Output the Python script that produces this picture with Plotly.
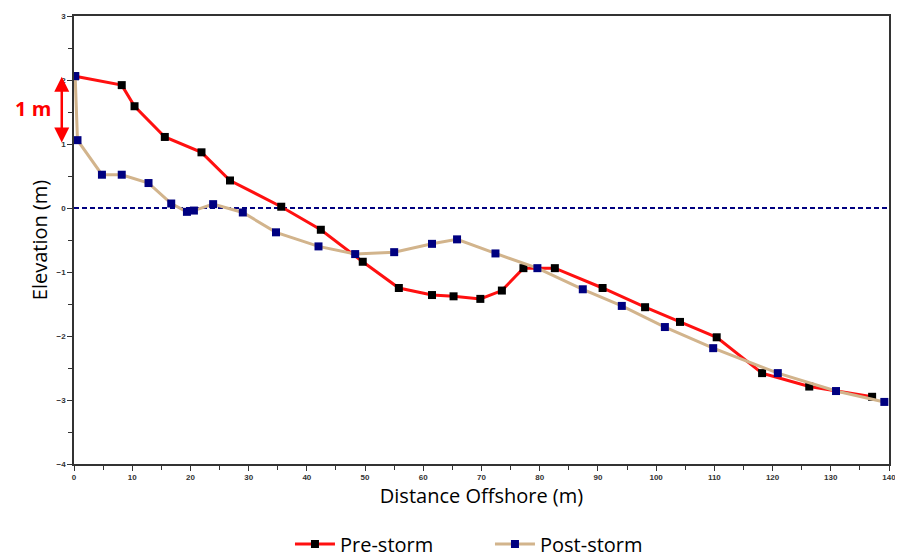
import plotly.graph_objects as go

pre_x = [0.2, 8.2, 10.4, 15.6, 21.9, 26.8, 35.6, 42.4, 49.6, 55.8, 61.5, 65.2, 69.8, 73.5, 77.2, 82.6, 90.8, 98.1, 104.1, 110.4, 118.2, 126.3, 137.1]
pre_y = [2.06, 1.92, 1.59, 1.11, 0.87, 0.43, 0.02, -0.34, -0.84, -1.25, -1.36, -1.38, -1.42, -1.29, -0.94, -0.94, -1.25, -1.55, -1.78, -2.02, -2.58, -2.79, -2.95]

post_x = [0.2, 0.6, 4.8, 8.2, 12.8, 16.7, 19.4, 20.6, 23.9, 29.0, 34.7, 42.0, 48.3, 55.0, 61.5, 65.8, 72.4, 79.6, 87.4, 94.1, 101.5, 109.8, 120.9, 130.9, 139.2]
post_y = [2.06, 1.06, 0.52, 0.52, 0.39, 0.07, -0.06, -0.04, 0.06, -0.07, -0.38, -0.60, -0.72, -0.69, -0.56, -0.49, -0.71, -0.94, -1.27, -1.53, -1.86, -2.19, -2.58, -2.86, -3.03]

x_ticks = [0, 10, 20, 30, 40, 50, 60, 70, 80, 90, 100, 110, 120, 130, 140]
y_ticks = [3, 2, 1, 0, -1, -2, -3, -4]

fig = go.Figure()
fig.add_trace(go.Scatter(x=pre_x, y=pre_y, mode="lines+markers", name="Pre-storm",
                         line=dict(color="#FF1010", width=3),
                         marker=dict(symbol="square", size=8, color="black")))
fig.add_trace(go.Scatter(x=post_x, y=post_y, mode="lines+markers", name="Post-storm",
                         line=dict(color="#D2B48C", width=3),
                         marker=dict(symbol="square", size=8, color="#000080")))

fig.add_shape(type="line", xref="x", yref="y", x0=0, x1=140, y0=0, y1=0,
              line=dict(color="#000080", width=2, dash="5px,3px"), layer="below")

# double-headed "1 m" arrow just left of the y axis (paper x, data y)
fig.add_annotation(x=-0.015, y=2.05, ax=0, ay=1.0, xref="paper", yref="y",
                   axref="pixel", ayref="y",
                   text="", showarrow=True, arrowhead=2, arrowside="end+start",
                   arrowsize=1.2, arrowwidth=2.5, arrowcolor="#FF0000")
fig.add_annotation(x=-0.026, y=1.55, xref="paper", yref="y", xanchor="right",
                   text="<b>1 m</b>", showarrow=False,
                   font=dict(family="Open Sans", size=20, color="#FF0000"))

tickfont = dict(family="Liberation Sans", size=8, color="#333333", weight="bold")
fig.update_xaxes(range=[0, 140], tickvals=x_ticks, ticks="outside", ticklen=5, tickcolor="#333",
                 showline=True, linecolor="#333", linewidth=1.5, mirror=True, showgrid=False,
                 zeroline=False, tickfont=tickfont, automargin=False,
                 minor=dict(ticks="outside", ticklen=4, dtick=5, tickcolor="#333", showgrid=False),
                 title=dict(text="Distance Offshore (m)", font=dict(family="Open Sans", size=20, color="black"), standoff=8))
fig.update_yaxes(range=[-4, 3], tickvals=y_ticks, ticks="outside", ticklen=5, tickcolor="#333",
                 showline=True, linecolor="#333", linewidth=1.5, mirror=True, showgrid=False,
                 zeroline=False, tickfont=tickfont, automargin=False,
                 minor=dict(ticks="outside", ticklen=4, dtick=0.5, tickcolor="#333", showgrid=False),
                 title=dict(text="Elevation (m)", font=dict(family="Open Sans", size=20, color="black"), standoff=4))

# page body has an 8px default margin, so the figure is sized to fit the window
fig.update_layout(width=895, height=551, margin=dict(l=66, r=14, t=8, b=95, autoexpand=False),
                  plot_bgcolor="white", paper_bgcolor="white",
                  legend=dict(orientation="h", x=0.265, xanchor="left", y=-0.135, yanchor="top",
                              font=dict(family="Open Sans", size=20, color="black"),
                              itemwidth=40, entrywidth=145, tracegroupgap=0))
fig.write_html("out.html")
